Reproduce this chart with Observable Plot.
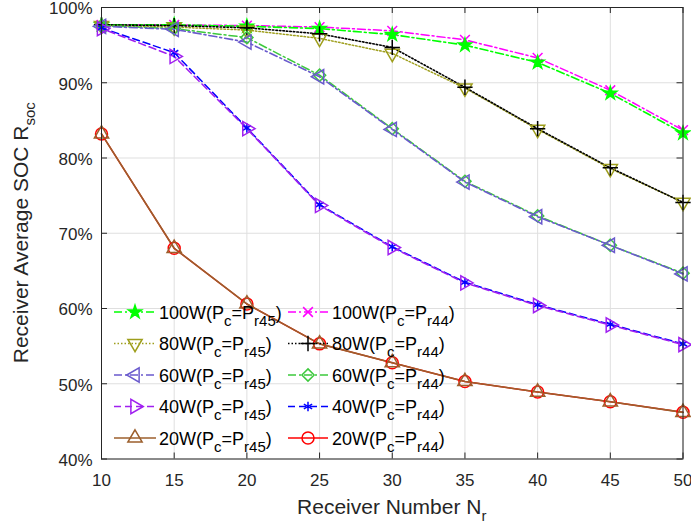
<!DOCTYPE html>
<html><head><meta charset="utf-8">
<script src="https://cdn.jsdelivr.net/npm/d3@7"></script>
<script src="https://cdn.jsdelivr.net/npm/@observablehq/plot@0.6"></script>
<style>
body{margin:0;background:#fff}
#chart svg{font-family:"Liberation Sans",Arial,Helvetica,sans-serif}
</style>
</head><body><div id="chart"></div>
<script>
// ---- data (values in %) ----
const receivers = [10, 15, 20, 25, 30, 35, 40, 45, 50];
const w100_r45 = [97.7, 97.7, 97.5, 97.2, 96.4, 95.0, 92.7, 88.6, 83.3];
const w100_r44 = [97.7, 97.7, 97.6, 97.4, 96.9, 95.7, 93.3, 89.0, 83.7];
const w80_r45  = [97.6, 97.4, 97.0, 95.9, 93.9, 89.3, 83.8, 78.6, 74.1];
const w80_r44  = [97.7, 97.6, 97.3, 96.5, 94.7, 89.4, 83.9, 78.7, 74.1];
const w60_r45  = [97.5, 97.1, 95.4, 90.8, 83.8, 76.8, 72.2, 68.4, 64.6];
const w60_r44  = [97.6, 97.2, 96.0, 91.0, 83.9, 76.9, 72.3, 68.4, 64.7];
const w40_r45  = [97.2, 93.5, 83.9, 73.7, 68.1, 63.4, 60.4, 57.8, 55.2];
const w40_r44  = [97.3, 94.0, 84.0, 73.8, 68.2, 63.5, 60.5, 57.9, 55.3];
const w20_r45  = [83.2, 68.0, 60.6, 55.3, 52.8, 50.3, 48.9, 47.6, 46.2];
const w20_r44  = [83.2, 68.0, 60.6, 55.3, 52.8, 50.3, 48.9, 47.6, 46.2];
const xTicks = [10, 15, 20, 25, 30, 35, 40, 45, 50];
const yTicks = [40, 50, 60, 70, 80, 90, 100];

// ---- styles ----
const DASHDOT = "8,3,2,3", DOT = "1.5,2", DASH = "7,4", SOLID = null;
const styles = {
  w100_r45: {values: w100_r45, color: "#00ff00", dash: DASHDOT, symbol: "star", r: 4.1, rot: 0, fill: "#00ff00", label: "100W", sub: "r45"},
  w80_r45:  {values: w80_r45,  color: "#9e9e1c", dash: DOT, symbol: "triangle", r: 5.3, rot: 180, fill: "none", label: "80W", sub: "r45"},
  w60_r45:  {values: w60_r45,  color: "#6a5acd", dash: DASHDOT, symbol: "triangle", r: 5.3, rot: -90, fill: "none", label: "60W", sub: "r45"},
  w40_r45:  {values: w40_r45,  color: "#a020f0", dash: DASH, symbol: "triangle", r: 5.3, rot: 90, fill: "none", label: "40W", sub: "r45"},
  w20_r45:  {values: w20_r45,  color: "#9c5f2c", dash: SOLID, symbol: "triangle", r: 5.3, rot: 0, fill: "none", label: "20W", sub: "r45"},
  w100_r44: {values: w100_r44, color: "#ff00ff", dash: DASHDOT, symbol: "times", r: 4.5, rot: 0, fill: "none", label: "100W", sub: "r44"},
  w80_r44:  {values: w80_r44,  color: "#000000", dash: DOT, symbol: "plus", r: 5, rot: 0, fill: "none", label: "80W", sub: "r44"},
  w60_r44:  {values: w60_r44,  color: "#3dc93d", dash: DASHDOT, symbol: "diamond2", r: 5.5, rot: 0, fill: "none", label: "60W", sub: "r44"},
  w40_r44:  {values: w40_r44,  color: "#0000ff", dash: DASH, symbol: "asterisk", r: 4.5, rot: 0, fill: "none", label: "40W", sub: "r44"},
  w20_r44:  {values: w20_r44,  color: "#ff0000", dash: SOLID, symbol: "circle", r: 6, rot: 0, fill: "none", label: "20W", sub: "r44"}
};
// pairs drawn: [bottom, top]
const pairs = [["w100_r44","w100_r45"],["w80_r45","w80_r44"],["w60_r44","w60_r45"],["w40_r44","w40_r45"],["w20_r44","w20_r45"]];
const legendCols = [["w100_r45","w80_r45","w60_r45","w40_r45","w20_r45"],["w100_r44","w80_r44","w60_r44","w40_r44","w20_r44"]];

const W = 691, H = 529, mL = 101, mR = 8.5, mT = 7, mB = 70.5;
const fw = W - mL - mR, fh = H - mT - mB;
const AX = "#262626";

const marks = [
  Plot.gridX(xTicks, {stroke: "#dfdfdf", strokeOpacity: 1}),
  Plot.gridY(yTicks, {stroke: "#dfdfdf", strokeOpacity: 1}),
  Plot.tickX(xTicks, {x: d => d, stroke: AX, insetTop: fh - 6}),
  Plot.tickX(xTicks, {x: d => d, stroke: AX, insetBottom: fh - 6}),
  Plot.tickY(yTicks, {y: d => d, stroke: AX, insetRight: fw - 6}),
  Plot.tickY(yTicks, {y: d => d, stroke: AX, insetLeft: fw - 6}),
  Plot.axisX(xTicks, {tickSize: 0, tickPadding: 15, fontSize: 17, color: AX, label: null}),
  Plot.axisY(yTicks, {tickSize: 0, tickPadding: 9, fontSize: 17, color: AX, label: null, dy: 1.5, tickFormat: d => d + "%"})
];
const rowsOf = s => receivers.map((x, i) => ({x, y: s.values[i]}));
for (const [a, b] of pairs) {
  const A = styles[a], B = styles[b];
  marks.push(Plot.line(rowsOf(A), {x: "x", y: "y", stroke: A.color, strokeWidth: 1.5, strokeDasharray: A.dash}));
  marks.push(Plot.line(rowsOf(B), {x: "x", y: "y", stroke: B.color, strokeWidth: 1.6, strokeDasharray: B.dash, strokeDashoffset: 4}));
  for (const S of [A, B])
    marks.push(Plot.dot(rowsOf(S), {x: "x", y: "y", symbol: S.symbol, r: S.r, stroke: S.color, strokeWidth: 1.5, fill: S.fill, rotate: S.rot}));
}
marks.push(Plot.frame({stroke: AX, strokeWidth: 1}));

const chart = Plot.plot({
  width: W, height: H,
  marginLeft: mL, marginRight: mR, marginTop: mT, marginBottom: mB,
  x: {domain: [10, 50], axis: null},
  y: {domain: [40, 100], axis: null},
  style: {fontFamily: "'Liberation Sans', Arial, sans-serif", background: "white", color: AX},
  marks
});
document.getElementById("chart").appendChild(chart);

// ---- axis labels with subscripts ----
const svg = d3.select(chart);
const xl = svg.append("text").attr("x", (mL + W - mR) / 2).attr("y", 514)
  .attr("text-anchor", "middle").attr("fill", AX).style("font-size", "21px");
xl.append("tspan").text("Receiver Number N");
xl.append("tspan").attr("dy", 7).style("font-size", "15px").text("r");

const yl = svg.append("text").attr("transform", "translate(28," + (mT + fh / 2) + ") rotate(-90)")
  .attr("text-anchor", "middle").attr("fill", AX).style("font-size", "21px");
yl.append("tspan").text("Receiver Average SOC R");
yl.append("tspan").attr("dy", 7).style("font-size", "15px").text("soc");

// ---- legend ----
const symMap = {star: d3.symbolStar, triangle: d3.symbolTriangle, diamond2: d3.symbolDiamond2,
  times: d3.symbolTimes, plus: d3.symbolPlus, asterisk: d3.symbolAsterisk, circle: d3.symbolCircle};
const colGeom = [{x1: 114, x2: 156, mx: 135, tx: 159}, {x1: 288, x2: 328, mx: 308, tx: 332}];
const rowY = [312, 343.5, 375, 406.5, 438];
const lg = svg.append("g").attr("text-anchor", "start");
legendCols.forEach((col, ci) => {
  const g = colGeom[ci];
  col.forEach((k, ri) => {
    const s = styles[k], y = rowY[ri];
    lg.append("line").attr("x1", g.x1).attr("x2", g.x2).attr("y1", y).attr("y2", y)
      .attr("stroke", s.color).attr("stroke-width", 1.5).attr("stroke-dasharray", s.dash);
    lg.append("path").attr("d", d3.symbol(symMap[s.symbol], s.r * s.r * Math.PI)())
      .attr("transform", "translate(" + g.mx + "," + y + ") rotate(" + s.rot + ")")
      .attr("stroke", s.color).attr("stroke-width", 1.5).attr("fill", s.fill);
    const t = lg.append("text").attr("x", g.tx).attr("y", y + 6.5).attr("fill", "#000")
      .attr("text-anchor", "start").style("font-size", "18px");
    t.append("tspan").text(s.label + "(P");
    t.append("tspan").attr("dy", 7).style("font-size", "15px").text("c");
    t.append("tspan").attr("dy", -7).text("=P");
    t.append("tspan").attr("dy", 7).style("font-size", "15px").text(s.sub);
    t.append("tspan").attr("dy", -7).text(")");
  });
});
</script>
</body></html>
